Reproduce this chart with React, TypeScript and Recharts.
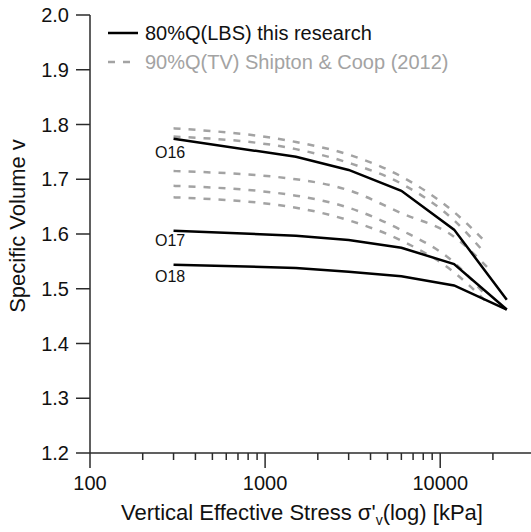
import { LineChart, Line, XAxis, YAxis } from "recharts";

// loading steps of the oedometer tests (kPa) and specific volumes
const stressLBS = [300, 1500, 3000, 6000, 12000, 24000];
const o16 = [1.774, 1.741, 1.717, 1.679, 1.608, 1.48];
const o17 = [1.606, 1.597, 1.589, 1.575, 1.545, 1.462];
const o18 = [1.544, 1.538, 1.531, 1.523, 1.506, 1.462];

// Shipton & Coop (2012) curves
const stressTVa = [300, 1500, 3000, 6000, 12000, 18500];
const stressTVb = [300, 1500, 3000, 6000, 12000, 18000];
const tvA = [1.793, 1.768, 1.745, 1.705, 1.64, 1.583];
const tvB = [1.778, 1.755, 1.73, 1.692, 1.625, 1.565];
const tvC = [1.715, 1.7, 1.68, 1.638, 1.595, 1.54];
const tvD = [1.688, 1.67, 1.648, 1.607, 1.548, 1.49];
const tvE = [1.667, 1.648, 1.625, 1.588, 1.53, 1.475];

const xTicks = [100, 200, 300, 400, 500, 600, 700, 800, 900, 1000, 2000, 3000, 4000, 5000, 6000, 7000, 8000, 9000, 10000, 20000];
const xMajor = [100, 1000, 10000];
const yTicks = [1.2, 1.3, 1.4, 1.5, 1.6, 1.7, 1.8, 1.9, 2.0];

const FONT = "'Liberation Sans', Arial, sans-serif";
const AXIS = "#2b2b2b";
const GREY = "#a3a3a3";

const pts = (xs: number[], ys: number[]) => xs.map((x, i) => ({ x, v: ys[i] }));

function XTick(props: any) {
  const { x, y, payload } = props;
  const major = xMajor.includes(payload.value);
  return (
    <g>
      <line x1={x} x2={x} y1={y} y2={y + (major ? 15 : 7)} stroke={AXIS} strokeWidth={1.5} />
      {major && (
        <text x={x} y={y + 37} textAnchor="middle" fontSize={20} fontFamily={FONT} fill="#111">
          {payload.value}
        </text>
      )}
    </g>
  );
}

export default function App() {
  const tv = [
    pts(stressTVa, tvA),
    pts(stressTVb, tvB),
    pts(stressTVa, tvC),
    pts(stressTVb, tvD),
    pts(stressTVa, tvE),
  ];
  return (
    <div style={{ position: "absolute", left: 0, top: 0, background: "#fff" }}>
      <LineChart width={531} height={532} margin={{ top: 15, right: 0, left: 0, bottom: 0 }}>
        <XAxis
          dataKey="x"
          type="number"
          scale="log"
          domain={[100, 33000]}
          allowDataOverflow
          ticks={xTicks}
          interval={0}
          tick={<XTick />}
          tickLine={false}
          tickSize={0}
          tickMargin={0}
          height={79}
          axisLine={{ stroke: AXIS, strokeWidth: 1.5 }}
        />
        <YAxis
          type="number"
          domain={[1.2, 2.0]}
          ticks={yTicks}
          interval={0}
          width={90}
          tickSize={14}
          tickMargin={7}
          tickFormatter={(v: number) => v.toFixed(1)}
          tick={{ fontSize: 20, fontFamily: FONT, fill: "#111" }}
          tickLine={{ stroke: AXIS, strokeWidth: 1.5 }}
          axisLine={{ stroke: AXIS, strokeWidth: 1.5 }}
        />
        {tv.map((d, i) => (
          <Line
            key={"tv" + i}
            data={d}
            dataKey="v"
            type="monotone"
            stroke={GREY}
            strokeWidth={2.5}
            strokeDasharray="7 8"
            dot={false}
            isAnimationActive={false}
          />
        ))}
        <Line data={pts(stressLBS, o16)} dataKey="v" type="linear" stroke="#000" strokeWidth={2.5} dot={false} isAnimationActive={false} />
        <Line data={pts(stressLBS, o17)} dataKey="v" type="linear" stroke="#000" strokeWidth={2.5} dot={false} isAnimationActive={false} />
        <Line data={pts(stressLBS, o18)} dataKey="v" type="linear" stroke="#000" strokeWidth={2.5} dot={false} isAnimationActive={false} />

        <g fontFamily={FONT}>
          <line x1={108} x2={138} y1={33} y2={33} stroke="#000" strokeWidth={2.5} />
          <text x={145} y={40} fontSize={20} fill="#111">80%Q(LBS) this research</text>
          <line x1={108} x2={130} y1={62} y2={62} stroke={GREY} strokeWidth={2.5} strokeDasharray="7 8" />
          <text x={145} y={69} fontSize={20} fill={GREY}>90%Q(TV) Shipton &amp; Coop (2012)</text>

          <text x={155} y={158} fontSize={16} fill="#111">O16</text>
          <text x={155} y={246} fontSize={16} fill="#111">O17</text>
          <text x={155} y={282} fontSize={16} fill="#111">O18</text>

          <text x={302} y={520} fontSize={22} textAnchor="middle" fill="#111">
            Vertical Effective Stress σ'<tspan fontSize={14} dy={5}>v</tspan>
            <tspan dy={-5}>(log) [kPa]</tspan>
          </text>
          <text x={25} y={226} fontSize={22} textAnchor="middle" fill="#111" transform="rotate(-90 25 226)">
            Specific Volume v
          </text>
        </g>
      </LineChart>
    </div>
  );
}
